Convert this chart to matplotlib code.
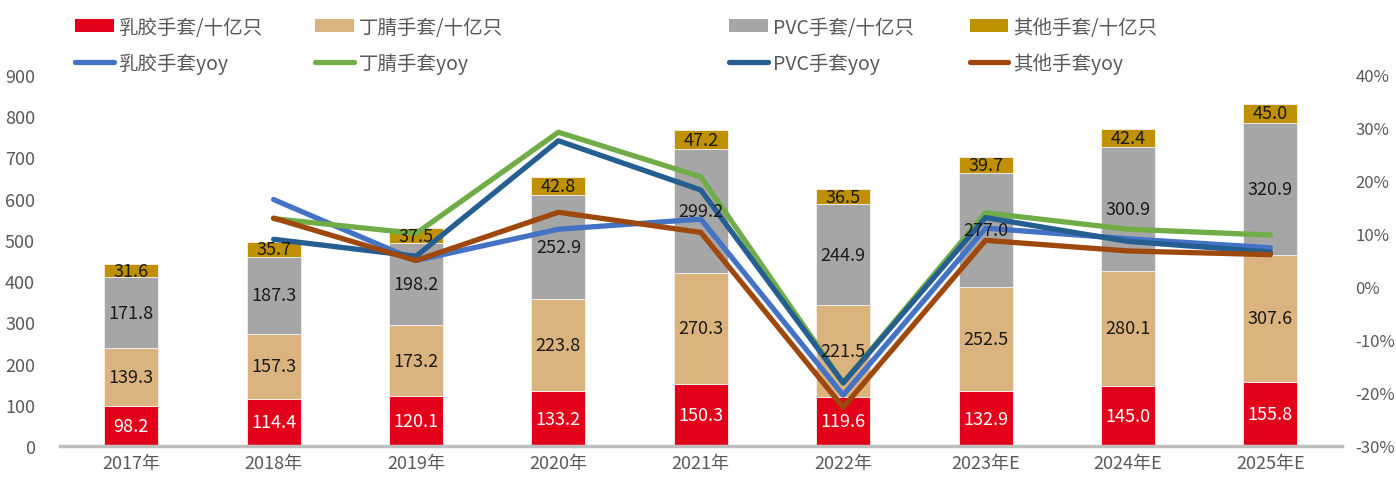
import matplotlib
matplotlib.use("Agg")
import matplotlib.pyplot as plt
import numpy as np
from matplotlib.patches import Patch
from matplotlib.lines import Line2D

plt.rcParams['font.family'] = ['Noto Sans CJK SC', 'DejaVu Sans']

years = ["2017年", "2018年", "2019年", "2020年", "2021年", "2022年", "2023年E", "2024年E", "2025年E"]

latex = [98.2, 114.4, 120.1, 133.2, 150.3, 119.6, 132.9, 145.0, 155.8]
nitrile = [139.3, 157.3, 173.2, 223.8, 270.3, 221.5, 252.5, 280.1, 307.6]
pvc = [171.8, 187.3, 198.2, 252.9, 299.2, 244.9, 277.0, 300.9, 320.9]
other = [31.6, 35.7, 37.5, 42.8, 47.2, 36.5, 39.7, 42.4, 45.0]

# yoy in %, first year has no value
latex_yoy = [None, 16.5, 5.0, 10.9, 12.8, -20.4, 11.1, 9.1, 7.4]
nitrile_yoy = [None, 12.9, 10.1, 29.2, 20.8, -18.1, 14.0, 10.9, 9.8]
pvc_yoy = [None, 9.0, 5.8, 27.6, 18.3, -18.1, 13.1, 8.6, 6.6]
other_yoy = [None, 13.0, 5.0, 14.1, 10.3, -22.7, 8.8, 6.8, 6.1]

bar_names = ["乳胶手套/十亿只", "丁腈手套/十亿只", "PVC手套/十亿只", "其他手套/十亿只"]
line_names = ["乳胶手套yoy", "丁腈手套yoy", "PVC手套yoy", "其他手套yoy"]
bar_colors = ["#E2001A", "#DBB37E", "#A6A6A6", "#BF9000"]
line_colors = ["#4472C4", "#70AD47", "#255E91", "#9E480E"]
label_colors = ["white", "#1a1a1a", "#1a1a1a", "#1a1a1a"]

fig = plt.figure(figsize=(13.96, 4.81), dpi=100)
ax = fig.add_axes([0.043, 0.0707, 0.918, 0.7713])
ax2 = ax.twinx()

x = np.arange(len(years))
bottom = np.zeros(len(years))
for vals, col, lc in zip([latex, nitrile, pvc, other], bar_colors, label_colors):
    ax.bar(x, vals, 0.38, bottom=bottom, color=col, edgecolor="#f2f2f2", linewidth=0.6, zorder=2)
    # labels go on the top axes so they sit above the yoy lines
    for xi, b, v in zip(x, bottom, vals):
        ax2.text(xi, b + v / 2, f"{v:.1f}", transform=ax.transData, ha="center",
                 va="center", color=lc, fontsize=13, zorder=5)
    bottom += np.array(vals)

for vals, col in zip([latex_yoy, nitrile_yoy, pvc_yoy, other_yoy], line_colors):
    xs = [i for i, v in enumerate(vals) if v is not None]
    ys = [v for v in vals if v is not None]
    ax2.plot(xs, ys, color=col, linewidth=3.8, solid_capstyle="round", zorder=3)

ax.set_xlim(-0.5, len(years) - 0.5)
ax.set_ylim(0, 900)
ax.set_yticks(range(0, 901, 100))
ax2.set_ylim(-30, 40)
ax2.set_yticks(range(-30, 41, 10))
ax2.set_yticklabels([f"{t}%" for t in range(-30, 41, 10)])

ax.set_xticks(x)
ax.set_xticklabels(years)

for a in (ax, ax2):
    for s in ("top", "left", "right", "bottom"):
        a.spines[s].set_visible(False)
    a.tick_params(length=0, labelsize=13, colors="#595959")
ax.spines["bottom"].set_visible(True)
ax.spines["bottom"].set_color("#BFBFBF")
ax.spines["bottom"].set_linewidth(2.5)
ax.tick_params(axis="x", pad=6)
ax.tick_params(axis="y", pad=18)
ax2.tick_params(axis="y", pad=10, labelsize=12)
ax2.set_zorder(ax.get_zorder() + 1)
ax.patch.set_visible(False)

# legend: four columns, bar on top row, yoy line below
col_x = [0.041, 0.213, 0.510, 0.682]
for i in range(4):
    handles = [Patch(facecolor=bar_colors[i]),
               Line2D([0], [0], color=line_colors[i], linewidth=3.8, solid_capstyle="round")]
    fig.legend(handles, [bar_names[i], line_names[i]], loc="upper left",
               bbox_to_anchor=(col_x[i], 1.0), frameon=False, fontsize=14,
               labelcolor="#595959", handlelength=2.0, handleheight=0.65,
               handletextpad=0.25, labelspacing=0.75)

fig.savefig("out.png", dpi=100)
